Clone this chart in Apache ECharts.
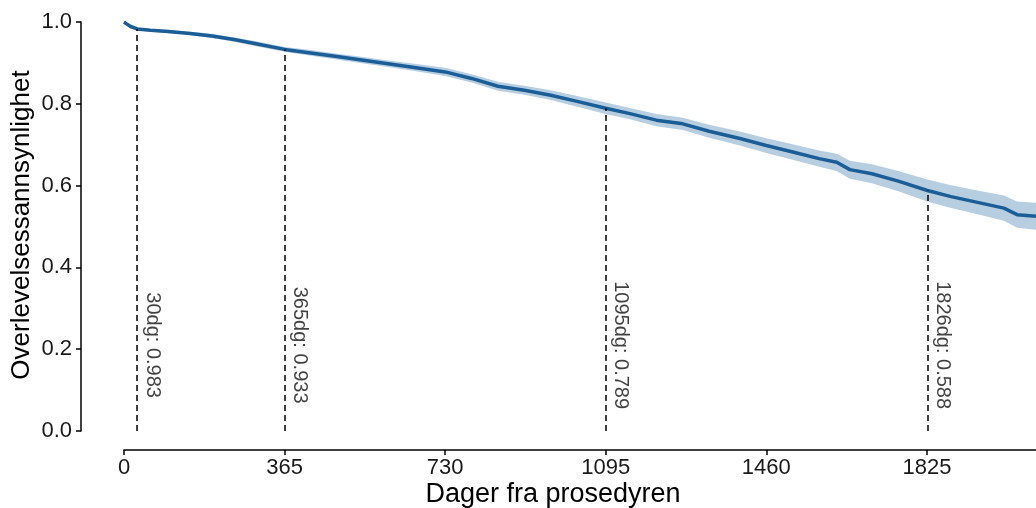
<!DOCTYPE html>
<html>
<head>
<meta charset="utf-8">
<script src="https://cdn.jsdelivr.net/npm/echarts@6/dist/echarts.min.js"></script>
<style>
html,body{margin:0;padding:0;background:#fff;}
#chart{width:1036px;height:508px;}
</style>
</head>
<body>
<div id="chart"></div>
<script>
const days  = [0, 5, 15, 30, 60, 100, 150, 200, 250, 300, 365, 420, 480, 540, 600, 660, 730, 790, 850, 910, 970, 1030, 1095, 1150, 1210, 1270, 1330, 1400, 1460, 1520, 1580, 1620, 1650, 1700, 1760, 1826, 1880, 1940, 2000, 2030, 2073];
const surv  = [1.000, 0.996, 0.989, 0.983, 0.980, 0.977, 0.972, 0.966, 0.957, 0.947, 0.933, 0.925, 0.916, 0.907, 0.898, 0.889, 0.878, 0.862, 0.843, 0.833, 0.821, 0.806, 0.789, 0.776, 0.760, 0.751, 0.733, 0.715, 0.698, 0.682, 0.666, 0.657, 0.639, 0.629, 0.611, 0.588, 0.573, 0.559, 0.545, 0.529, 0.525];
const lower = [1.000, 0.995, 0.987, 0.980, 0.977, 0.973, 0.968, 0.961, 0.952, 0.941, 0.927, 0.918, 0.909, 0.899, 0.890, 0.880, 0.868, 0.852, 0.832, 0.822, 0.809, 0.793, 0.775, 0.762, 0.745, 0.736, 0.717, 0.698, 0.680, 0.663, 0.646, 0.636, 0.617, 0.606, 0.586, 0.561, 0.545, 0.530, 0.514, 0.497, 0.492];
const upper = [1.000, 0.997, 0.991, 0.986, 0.983, 0.981, 0.976, 0.971, 0.962, 0.953, 0.939, 0.932, 0.923, 0.915, 0.906, 0.898, 0.888, 0.872, 0.854, 0.844, 0.833, 0.819, 0.803, 0.790, 0.775, 0.766, 0.749, 0.732, 0.716, 0.701, 0.686, 0.678, 0.661, 0.652, 0.636, 0.615, 0.601, 0.588, 0.576, 0.561, 0.558];
const xTicks = [0, 365, 730, 1095, 1460, 1825];
const markDays = [30, 365, 1095, 1826];
const markVals = [0.983, 0.933, 0.789, 0.588];
const xTitle = 'Dager fra prosedyren';
const yTitle = 'Overlevelsessannsynlighet';
const labelY = 0.21;

const FONT = '"Liberation Sans", Arial, Helvetica, sans-serif';
const chart = echarts.init(document.getElementById('chart'), null, {renderer: 'canvas'});

const option = {
  animation: false,
  backgroundColor: '#ffffff',
  grid: {left: 124, right: 0, top: 22, bottom: 77, containLabel: false},
  xAxis: {
    type: 'value', min: 0, max: 2073, offset: 19,
    axisLine: {show: true, onZero: false, lineStyle: {color: '#000', width: 1.5}},
    axisTick: {show: true, customValues: xTicks, length: 5, lineStyle: {color: '#000', width: 1.5}},
    axisLabel: {customValues: xTicks, fontSize: 22, color: '#1a1a1a', margin: 7, fontFamily: FONT, formatter: v => String(v)},
    splitLine: {show: false}
  },
  yAxis: {
    type: 'value', min: 0, max: 1, interval: 0.2, offset: 43,
    axisLine: {show: true, onZero: false, lineStyle: {color: '#000', width: 1.5}},
    axisTick: {show: true, length: 5, lineStyle: {color: '#000', width: 1.5}},
    axisLabel: {fontSize: 22, color: '#1a1a1a', margin: 9, fontFamily: FONT, formatter: v => v.toFixed(1)},
    splitLine: {show: false}
  },
  graphic: [
    {type: 'text', x: 553, y: 495, style: {text: xTitle, font: '27px ' + FONT, fill: '#000', textAlign: 'center', textVerticalAlign: 'middle'}},
    {type: 'text', x: 22, y: 225, rotation: Math.PI / 2, style: {text: yTitle, font: '26px ' + FONT, fill: '#000', textAlign: 'center', textVerticalAlign: 'middle'}}
  ],
  series: [
    {
      type: 'custom',
      silent: true,
      clip: true,
      data: [[0, 1]],
      renderItem: function (params, api) {
        const pts = [];
        for (let i = 0; i < days.length; i++) pts.push(api.coord([days[i], upper[i]]));
        for (let i = days.length - 1; i >= 0; i--) pts.push(api.coord([days[i], lower[i]]));
        return {type: 'polygon', shape: {points: pts}, style: {fill: '#b7cee1'}};
      },
      z: 1
    },
    {
      type: 'line',
      data: days.map((d, i) => [d, surv[i]]),
      showSymbol: false,
      symbol: 'none',
      lineStyle: {color: '#1b5e97', width: 3.5},
      itemStyle: {color: '#1b5e97'},
      z: 3,
      markLine: {
        silent: true,
        symbol: ['none', 'none'],
        lineStyle: {color: '#000', width: 1.5, type: [6, 4]},
        label: {show: false},
        data: markDays.map((d, i) => [{coord: [d, 0]}, {coord: [d, markVals[i]]}])
      }
    },
    {
      type: 'scatter',
      silent: true,
      symbolSize: 0,
      data: markDays.map(d => [d, labelY]),
      label: {
        show: true, position: 'inside', rotate: -90, offset: [0, -15],
        fontSize: 20, color: '#111', fontFamily: FONT,
        formatter: p => markDays[p.dataIndex] + 'dg: ' + markVals[p.dataIndex].toFixed(3)
      },
      z: 4
    }
  ]
};
chart.setOption(option);
</script>
</body>
</html>
